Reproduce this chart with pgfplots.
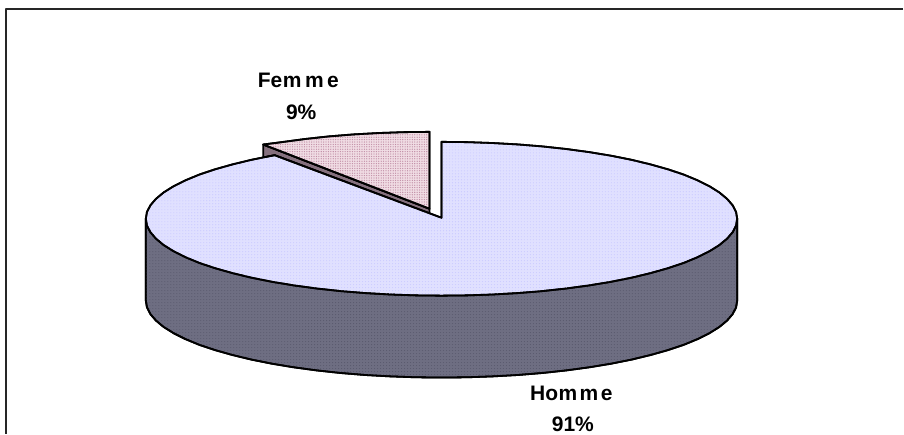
\documentclass[border=0pt]{standalone}
\usepackage{fontspec}
\setmainfont{Liberation Sans}
\usepackage{pgfplots}
\pgfplotsset{compat=1.18}
\usetikzlibrary{patterns.meta}
\definecolor{hommetop}{HTML}{E0E0FF}
\definecolor{hommedot}{HTML}{CACAFF}
\definecolor{sideback}{HTML}{6E6E82}
\definecolor{sidedot}{HTML}{5A5A6E}
\definecolor{femmetop}{HTML}{F0DCE4}
\definecolor{femmedot}{HTML}{C08CA4}
\definecolor{femmeside}{HTML}{85707E}
\newcommand{\lab}{\fontsize{21}{21}\selectfont\bfseries}
\begin{document}
\begin{tikzpicture}
\begin{axis}[
    width=904pt, height=434pt,
    scale only axis,
    xmin=0, xmax=904,
    ymin=0, ymax=434,
    y dir=reverse,
    axis lines=none,
    clip=false,
    every axis plot/.append style={line join=round},
]
% keeps the page at the full size
\addplot[draw=none] coordinates {(0,0) (904,434)};

% frame, only top and left are there
\addplot[color=black!85, line width=2pt] coordinates {(904,9) (6,9) (6,434)};

% Homme side
\addplot[draw=black, line width=1.8pt, preaction={fill=sideback},
    pattern={Dots[distance=3pt,radius=0.55pt]}, pattern color=sidedot] coordinates {
    (738,219) (738,301) (736.9,307.7) (733.5,314.4) (727.9,320.9) (720.2,327.3) (710.3,333.5)
    (698.3,339.5) (684.5,345.2) (668.7,350.5) (651.3,355.4) (632.3,360) (611.8,364.1) (590,367.7)
    (567.1,370.8) (543.2,373.4) (518.6,375.4) (493.4,376.8) (467.8,377.7) (442,378)
    (416.2,377.7) (390.6,376.8) (365.4,375.4) (340.8,373.4) (316.9,370.8) (294,367.7)
    (272.2,364.1) (251.7,360) (232.7,355.4) (215.3,350.5) (199.5,345.2) (185.7,339.5)
    (173.7,333.5) (163.8,327.3) (156.1,320.9) (150.5,314.4) (147.1,307.7) (146,301) (146,219)
} --cycle;

% Femme side
\addplot[draw=black, line width=1.8pt, fill=femmeside] coordinates {
    (263.5,144.7) (430,209) (430,214) (275,155.4) (263.5,157.7)
} --cycle;

% Femme top
\addplot[draw=black, line width=1.8pt, preaction={fill=femmetop},
    pattern={Dots[distance=2.4pt,radius=0.65pt]}, pattern color=femmedot] coordinates {
    (430,132) (404.2,132.3) (378.6,133.2) (353.4,134.6) (328.8,136.6) (305.1,139.2) (282,142.3)
    (263.5,144.7) (430,209)
} --cycle;

% Homme top
\addplot[draw=black, line width=1.8pt, preaction={fill=hommetop},
    pattern={Dots[distance=3pt,radius=0.55pt]}, pattern color=hommedot] coordinates {
    (442,142) (467.8,142.3) (493.4,143.2) (518.6,144.6) (543.2,146.6) (567.1,149.2) (590,152.3)
    (611.8,155.9) (632.3,160) (651.3,164.6) (668.7,169.5) (684.5,174.8) (698.3,180.5) (710.3,186.5)
    (720.2,192.7) (727.9,199.1) (733.5,205.6) (736.9,212.3) (738,219) (736.9,225.7) (733.5,232.4)
    (727.9,238.9) (720.2,245.3) (710.3,251.5) (698.3,257.5) (684.5,263.2) (668.7,268.5) (651.3,273.4)
    (632.3,278) (611.8,282.1) (590,285.7) (567.1,288.8) (543.2,291.4) (518.6,293.4) (493.4,294.8)
    (467.8,295.7) (442,296) (416.2,295.7) (390.6,294.8) (365.4,293.4) (340.8,291.4) (316.9,288.8)
    (294,285.7) (272.2,282.1) (251.7,278) (232.7,273.4) (215.3,268.5) (199.5,263.2) (185.7,257.5)
    (173.7,251.5) (163.8,245.3) (156.1,238.9) (150.5,232.4) (147.1,225.7) (146,219) (147.1,212.3)
    (150.5,205.6) (156.1,199.1) (163.8,192.7) (173.7,186.5) (185.7,180.5) (199.5,174.8) (215.3,169.5)
    (232.7,164.6) (251.7,160) (263,157.7) (275,155.4) (430,213.5) (442,218)
} --cycle;

\node[anchor=base west, inner sep=0pt, text=black] at (axis cs:258,88) {\lab Fe\kern0.5pt m\kern3.5pt m\kern3.5pt e};
\node[anchor=base, inner sep=0pt, text=black] at (axis cs:301.5,120) {\lab 9\%};
\node[anchor=base, inner sep=0pt, text=black] at (axis cs:572,401) {\lab Ho\kern0.5pt m\kern2.5pt m\kern2.5pt e};
\node[anchor=base, inner sep=0pt, text=black] at (axis cs:573.5,432) {\lab 91\%};
\end{axis}
\end{tikzpicture}
\end{document}
